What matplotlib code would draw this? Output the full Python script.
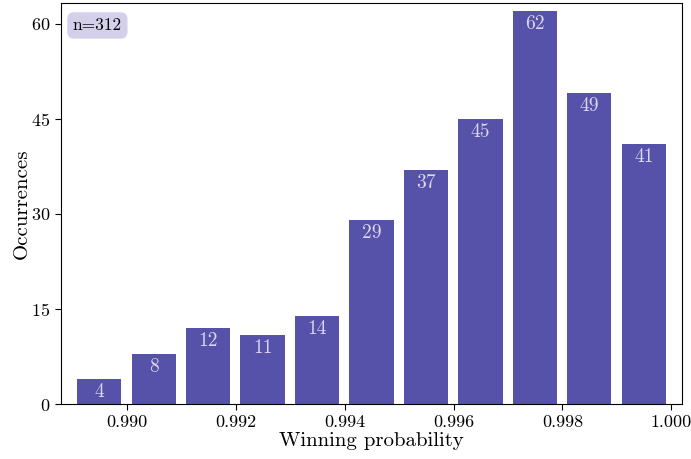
import numpy as np
import matplotlib

matplotlib.use("Agg")
import matplotlib.pyplot as plt

# histogram counts per bin of winning probability
counts = [4, 8, 12, 11, 14, 29, 37, 45, 62, 49, 41]
bin_lo = 0.98898
bin_hi = 1.0000
n_total = 312

x_ticks = [0.990, 0.992, 0.994, 0.996, 0.998, 1.000]
y_ticks = [0, 15, 30, 45, 60]

bar_color = "#5652aa"
label_color = "#dcd8ef"
box_color = "#d5d0ea"

plt.rcParams["font.family"] = ["cmr10", "DejaVu Serif"]
plt.rcParams["mathtext.fontset"] = "cm"
plt.rcParams["axes.formatter.use_mathtext"] = True

edges = np.linspace(bin_lo, bin_hi, len(counts) + 1)
centers = (edges[:-1] + edges[1:]) / 2
width = (edges[1] - edges[0]) * 0.81

fig = plt.figure(figsize=(6.91, 4.59), dpi=100)
ax = fig.add_axes([0.0883, 0.119, 0.8987, 0.8745])

bars = ax.bar(centers, counts, width=width, color=bar_color)
for b, c in zip(bars, counts):
    ax.annotate(str(c), (b.get_x() + b.get_width() / 2, b.get_height()),
                xytext=(0, -9.4), textcoords="offset points",
                ha="center", va="center", color=label_color, fontsize=14)

ax.text(0.019, 0.963, f"n={n_total}", transform=ax.transAxes,
        ha="left", va="top", fontsize=12.5,
        bbox=dict(boxstyle="round,pad=0.32,rounding_size=0.4",
                  facecolor=box_color, edgecolor="none"))

ax.set_xlim(0.98878, 1.0002)
ax.set_ylim(0, 63.24)
ax.set_xticks(x_ticks)
ax.set_xticklabels([f"{t:.3f}" for t in x_ticks])
ax.set_yticks(y_ticks)
ax.tick_params(labelsize=13, length=4, direction="out")
ax.set_xlabel("Winning probability", fontsize=15, labelpad=1.5)
ax.set_ylabel("Occurrences", fontsize=15, labelpad=0)

fig.savefig("out.png", dpi=100)
